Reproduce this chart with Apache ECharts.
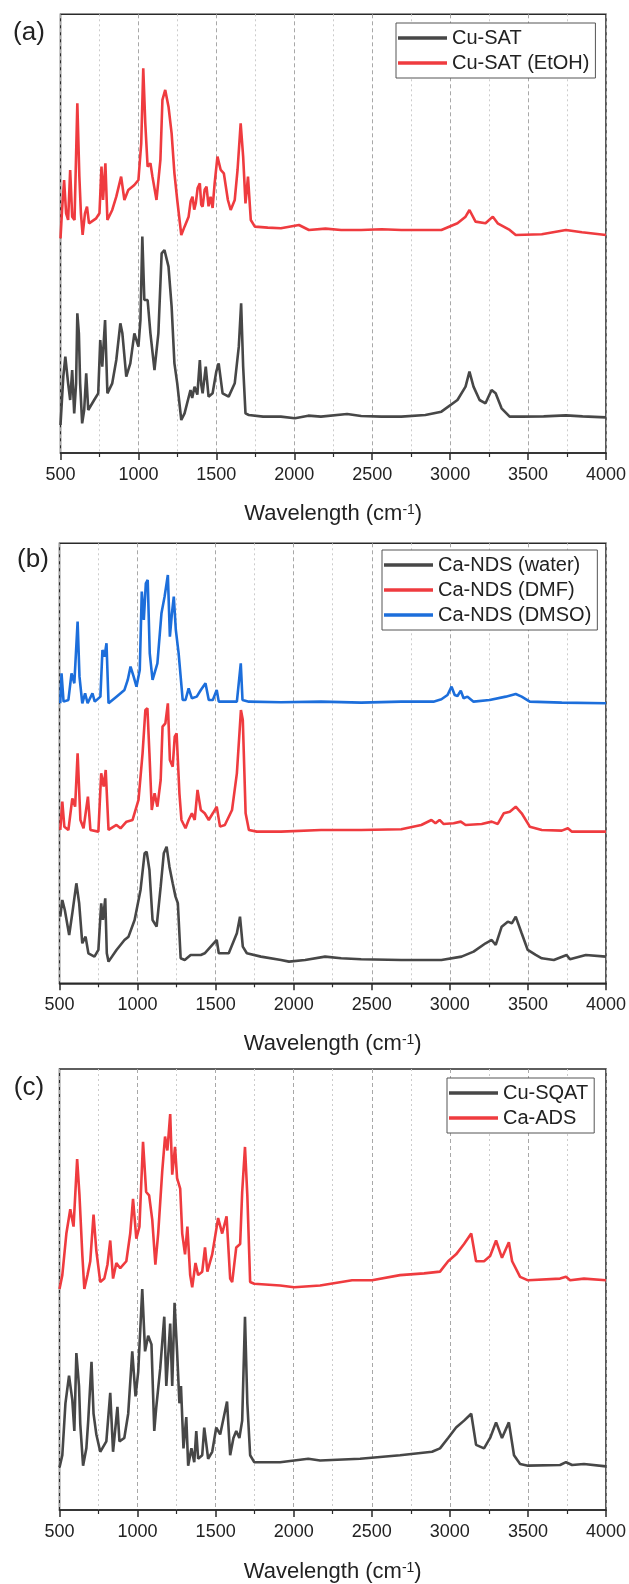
<!DOCTYPE html>
<html><head><meta charset="utf-8">
<script src="https://cdn.jsdelivr.net/npm/echarts@6/dist/echarts.min.js"></script>
<style>html,body{margin:0;padding:0;background:#fff}#c{width:629px;height:1584px}</style>
</head><body><div id="c"></div>
<script>
// x tick labels (wavenumber, cm-1)
const xTicks = [500, 1000, 1500, 2000, 2500, 3000, 3500, 4000];
const panelLabels = ['(a)', '(b)', '(c)'];
const seriesNames = ['Cu-SAT', 'Cu-SAT (EtOH)', 'Ca-NDS (water)', 'Ca-NDS (DMF)', 'Ca-NDS (DMSO)', 'Cu-SQAT', 'Ca-ADS'];

// Panel (a) — [wavenumber, intensity (a.u., offset)]
const cuSAT = [[500,8.4],[518,22.9],[531,28.9],[549,20.9],[562,15.9],[575,24.9],[588,11.9],[600,20.9],[608,41.9],[618,35.9],[626,20.9],[639,8.9],[652,12.9],[665,23.9],[678,12.9],[716,15.9],[742,17.9],[755,33.9],[768,25.9],[786,39.9],[801,17.9],[832,20.9],[858,27.9],[884,38.9],[897,35.9],[922,22.9],[948,26.9],[974,35.9],[1000,31.9],[1013,39.9],[1025,64.9],[1038,45.9],[1059,45.9],[1077,35.9],[1103,24.9],[1128,35.9],[1149,59.9],[1167,60.9],[1193,55.9],[1213,43.9],[1231,26.9],[1249,20.9],[1275,9.9],[1296,11.9],[1334,18.9],[1345,16.5],[1360,19.9],[1378,17.5],[1394,27.9],[1403,20.5],[1412,17.9],[1432,25.9],[1450,16.9],[1476,17.9],[1500,24.5],[1515,26.9],[1540,17.9],[1579,16.9],[1618,20.9],[1644,31.9],[1659,44.9],[1672,25.9],[1687,11.9],[1708,11.4],[1800,10.9],[1914,10.9],[2004,10.4],[2090,11.2],[2171,10.9],[2339,11.7],[2429,11.1],[2560,10.9],[2687,10.9],[2841,11.4],[2944,12.4],[3047,15.9],[3099,19.9],[3124,24.4],[3150,19.9],[3189,15.9],[3227,14.9],[3266,18.9],[3292,17.9],[3330,13.4],[3382,10.9],[3459,10.9],[3600,11.0],[3743,11.3],[3850,11.0],[4000,10.7]];
const cuSATEtOH = [[500,64.4],[510,72.9],[523,81.9],[536,71.9],[549,69.9],[562,84.9],[575,70.9],[590,69.9],[608,104.9],[621,82.9],[631,71.9],[642,65.4],[657,71.9],[670,73.9],[683,68.9],[729,70.4],[750,71.9],[763,85.9],[773,75.9],[788,86.9],[801,69.9],[832,72.9],[858,76.9],[889,82.9],[910,75.9],[935,78.9],[974,80.4],[1000,81.9],[1018,92.9],[1031,115.4],[1044,98.9],[1059,85.9],[1077,86.9],[1090,82.9],[1116,75.9],[1141,87.9],[1154,105.9],[1172,108.9],[1193,103.9],[1213,95.9],[1231,83.9],[1249,75.9],[1275,65.4],[1296,67.9],[1322,70.9],[1335,75.5],[1347,76.9],[1358,73.0],[1368,74.9],[1380,79.5],[1394,80.9],[1403,74.5],[1412,73.9],[1425,79.0],[1437,79.9],[1450,74.0],[1463,76.9],[1476,73.5],[1489,80.9],[1507,88.9],[1528,84.9],[1548,83.9],[1574,75.9],[1592,72.9],[1618,75.9],[1636,84.9],[1656,98.9],[1672,88.9],[1687,74.9],[1703,82.9],[1721,69.9],[1747,67.9],[1830,67.6],[1914,67.4],[2030,68.4],[2094,66.9],[2200,67.3],[2300,66.9],[2429,66.9],[2560,67.1],[2687,66.9],[2815,66.9],[2944,66.9],[3047,68.9],[3099,70.9],[3124,72.9],[3163,69.4],[3227,68.9],[3274,70.9],[3305,68.9],[3382,66.9],[3421,65.4],[3588,65.6],[3743,66.9],[3846,66.2],[4000,65.4]];

// Panel (b)
const caNDSwater = [[505,20.0],[518,25.0],[534,22.0],[562,14.5],[582,21.0],[608,30.0],[626,24.0],[646,12.0],[667,14.0],[685,9.0],[724,8.0],[749,10.0],[767,24.0],[778,19.0],[793,25.5],[803,9.0],[814,6.5],[865,10.0],[916,13.0],[942,14.0],[981,19.0],[1019,28.0],[1045,39.0],[1058,39.5],[1076,34.0],[1096,19.0],[1122,17.0],[1148,29.0],[1168,39.0],[1186,41.0],[1204,35.0],[1225,30.0],[1243,26.0],[1258,24.0],[1276,7.5],[1302,7.0],[1340,8.5],[1405,8.5],[1430,9.0],[1507,13.0],[1520,9.0],[1584,9.0],[1636,15.0],[1656,20.0],[1674,11.0],[1700,9.0],[1790,8.0],[1919,7.0],[1970,6.5],[2073,7.0],[2201,8.0],[2304,7.5],[2432,7.2],[2689,7.0],[2946,7.0],[3075,8.0],[3152,9.5],[3229,12.0],[3268,13.0],[3294,11.5],[3332,17.0],[3371,18.5],[3397,18.0],[3422,20.0],[3460,15.0],[3499,10.0],[3550,8.5],[3589,7.5],[3666,7.0],[3748,8.5],[3769,7.2],[3871,8.5],[4000,8.0]];
const caNDSDMF = [[505,46.0],[518,54.5],[531,47.0],[557,46.0],[582,55.5],[600,53.0],[616,69.0],[634,49.0],[654,46.5],[682,56.0],[698,46.0],[749,45.5],[767,63.0],[783,59.0],[796,64.0],[814,46.0],[865,47.5],[891,46.5],[929,48.5],[968,49.0],[1006,55.0],[1032,69.0],[1050,82.0],[1063,82.5],[1076,69.0],[1091,52.0],[1109,57.0],[1127,53.0],[1148,61.0],[1160,77.0],[1178,78.0],[1194,84.0],[1207,67.0],[1225,65.0],[1238,74.0],[1250,75.0],[1268,57.0],[1281,49.0],[1307,46.5],[1327,49.0],[1348,51.0],[1366,49.0],[1384,58.0],[1405,52.0],[1430,51.0],[1456,49.0],[1482,51.0],[1507,53.0],[1528,47.0],[1559,47.5],[1605,52.0],[1636,63.0],[1662,82.0],[1674,79.0],[1692,51.0],[1713,46.0],[1764,45.5],[1919,45.5],[2175,46.0],[2432,46.0],[2689,46.2],[2817,47.5],[2882,49.0],[2908,48.0],[2934,49.0],[2959,47.8],[3024,48.0],[3070,48.5],[3101,47.5],[3204,47.8],[3268,48.5],[3307,47.8],[3345,51.0],[3384,51.5],[3422,53.0],[3460,51.0],[3512,47.0],[3589,46.0],[3717,45.8],[3756,46.5],[3782,45.5],[4000,45.5]];
const caNDSDMSO = [[505,84.0],[513,93.0],[526,84.5],[557,85.0],[577,93.0],[595,90.0],[616,108.5],[628,92.0],[646,84.0],[664,87.0],[680,84.0],[711,87.0],[726,84.5],[762,86.0],[775,100.0],[788,98.0],[801,102.0],[814,84.0],[865,86.0],[916,88.0],[937,91.0],[955,95.0],[975,92.0],[993,89.0],[1014,94.0],[1027,117.5],[1040,109.0],[1053,120.0],[1065,121.0],[1078,99.0],[1096,91.0],[1127,96.0],[1153,111.0],[1173,116.0],[1194,122.5],[1207,104.0],[1220,111.0],[1232,116.0],[1245,106.0],[1263,99.0],[1289,85.0],[1307,85.0],[1327,88.5],[1348,85.5],[1379,86.0],[1405,88.0],[1435,90.0],[1456,85.0],[1482,85.0],[1507,88.0],[1520,84.5],[1636,84.5],[1661,96.0],[1672,85.0],[1713,84.5],[1919,84.3],[2175,84.5],[2432,84.2],[2689,84.5],[2895,84.5],[2946,85.2],[2985,86.5],[3011,89.0],[3031,86.5],[3049,86.2],[3070,87.8],[3088,85.5],[3113,86.0],[3152,84.5],[3255,85.0],[3358,86.0],[3422,86.8],[3460,86.0],[3512,84.5],[3717,84.2],[4000,84.0]];

// Panel (c)
const cuSQAT = [[500,12.3],[518,15.8],[538,30.8],[561,38.8],[582,31.8],[595,22.8],[608,45.3],[625,35.8],[633,24.8],[651,12.8],[672,17.8],[684,25.8],[705,42.8],[718,27.8],[736,21.8],[761,16.8],[800,19.8],[825,33.8],[843,16.8],[871,29.8],[884,19.8],[915,20.8],[940,27.8],[966,45.8],[987,32.8],[1004,39.8],[1030,63.8],[1048,45.8],[1068,50.3],[1089,47.8],[1107,22.8],[1120,29.8],[1145,40.8],[1171,55.8],[1184,35.8],[1209,53.8],[1222,35.8],[1237,59.8],[1253,45.8],[1268,30.8],[1278,35.8],[1294,17.8],[1312,26.8],[1324,12.8],[1345,17.8],[1363,13.8],[1376,22.8],[1388,14.8],[1414,15.8],[1427,23.8],[1452,14.8],[1478,16.8],[1504,23.8],[1529,21.8],[1573,31.3],[1593,15.8],[1614,20.8],[1632,22.8],[1652,20.8],[1670,25.8],[1688,55.8],[1703,30.8],[1721,15.8],[1747,13.8],[1913,13.8],[2093,14.8],[2169,14.3],[2425,14.8],[2681,15.8],[2886,16.8],[2937,17.8],[2989,20.8],[3040,23.8],[3091,25.8],[3137,27.8],[3168,18.8],[3219,17.8],[3258,20.8],[3296,25.3],[3334,20.8],[3378,25.3],[3411,15.8],[3450,13.3],[3501,12.8],[3706,13.0],[3744,13.8],[3783,13.0],[3859,13.3],[4000,12.6]];
const caADS = [[500,63.8],[518,67.8],[544,79.8],[569,86.8],[590,81.8],[613,101.3],[628,90.8],[646,73.8],[659,63.8],[679,67.8],[697,71.8],[718,85.3],[736,74.8],[761,65.8],[787,66.8],[807,70.8],[825,77.8],[843,66.8],[864,71.3],[889,69.8],[928,71.8],[953,79.8],[971,89.8],[992,78.3],[1012,81.8],[1035,106.3],[1055,91.8],[1074,90.8],[1094,83.8],[1114,70.8],[1132,79.8],[1158,97.8],[1176,107.8],[1191,103.8],[1209,114.3],[1222,96.8],[1240,104.8],[1253,95.8],[1273,92.8],[1286,79.8],[1304,73.8],[1319,81.8],[1337,67.8],[1350,64.3],[1371,71.3],[1388,67.8],[1414,68.8],[1432,75.8],[1447,68.8],[1478,73.8],[1516,84.3],[1542,79.8],[1570,84.8],[1593,66.8],[1606,65.8],[1632,75.8],[1657,76.8],[1670,91.8],[1688,104.8],[1703,90.8],[1721,65.8],[1747,65.3],[1913,64.8],[2003,64.3],[2169,64.8],[2374,66.3],[2502,66.3],[2681,67.8],[2835,68.3],[2937,68.8],[2989,71.8],[3040,73.8],[3091,76.8],[3137,79.8],[3168,71.8],[3219,71.8],[3258,73.3],[3296,77.8],[3334,72.8],[3378,77.3],[3399,71.8],[3450,67.3],[3501,66.3],[3706,66.8],[3744,67.3],[3770,66.3],[3859,66.8],[4000,66.3]];

const FONT = "'Liberation Sans', Arial, Helvetica, sans-serif";
const GRAY = '#474747', RED = '#ef3b3f', BLUE = '#1c6edb';

const grids = [
  {left: 60.5, top: 14.3, width: 545.5, height: 438.7, yMax: 131.6, gap: 50},
  {left: 59.5, top: 543.3, width: 547, height: 440, yMax: 132, gap: 50},
  {left: 59.5, top: 1069, width: 548, height: 442, yMax: 127.3, gap: 51}
];

function xAxis(i) {
  return {
    type: 'value', gridIndex: i, min: xTicks[0], max: xTicks[xTicks.length - 1], interval: 500,
    axisLine: {show: true, lineStyle: {color: '#2a2a2a', width: 1.5}},
    axisTick: {show: true, length: 7, lineStyle: {color: '#2a2a2a', width: 1.5}},
    minorTick: {show: true, splitNumber: 2, length: 4, lineStyle: {color: '#2a2a2a', width: 1.2}},
    axisLabel: {fontSize: 18, color: '#222', fontFamily: FONT, margin: 13, formatter: v => String(v)},
    splitLine: {show: true, lineStyle: {type: [4, 3], color: '#a8a8a8', width: 1}},
    minorSplitLine: {show: true, lineStyle: {type: [2, 3], color: '#cccccc', width: 1}},
    name: '{t|Wavelength (cm}{s|-1}{t|)}', nameLocation: 'middle', nameGap: grids[i].gap,
    nameTextStyle: {rich: {
      t: {fontSize: 22, color: '#222', fontFamily: FONT},
      s: {fontSize: 14, color: '#222', fontFamily: FONT, verticalAlign: 'top'}
    }}
  };
}
function yAxis(i) {
  return {type: 'value', gridIndex: i, min: 0, max: grids[i].yMax,
    axisLine: {show: false}, axisTick: {show: false}, axisLabel: {show: false}, splitLine: {show: false}};
}
function line(name, data, color, i) {
  return {name, type: 'line', xAxisIndex: i, yAxisIndex: i, data, showSymbol: false, symbol: 'none',
    lineStyle: {color, width: 2.6}, itemStyle: {color}, animation: false};
}
function legend(names, left, top) {
  return {data: names, orient: 'vertical', left, top, icon: 'rect', itemWidth: 49, itemHeight: 3.5, itemGap: 0,
    padding: [2.5, 6, 2.5, 2], borderColor: '#555', borderWidth: 1, backgroundColor: '#fff',
    textStyle: {fontSize: 20, color: '#222', fontFamily: FONT, lineHeight: 25, height: 25}};
}

const chart = echarts.init(document.getElementById('c'), null, {renderer: 'canvas'});
chart.setOption({
  animation: false,
  backgroundColor: '#fff',
  grid: grids.map(g => ({left: g.left, top: g.top, width: g.width, height: g.height, show: true,
    borderColor: '#2a2a2a', borderWidth: 1.5, backgroundColor: 'transparent'})),
  xAxis: [0, 1, 2].map(xAxis),
  yAxis: [0, 1, 2].map(yAxis),
  legend: [
    legend([seriesNames[0], seriesNames[1]], 396, 23),
    legend([seriesNames[2], seriesNames[3], seriesNames[4]], 382, 550),
    legend([seriesNames[5], seriesNames[6]], 447, 1078)
  ],
  graphic: [
    {type: 'text', x: 29, y: 33, style: {text: panelLabels[0], fontSize: 26, fill: '#222', fontFamily: FONT, align: 'center', verticalAlign: 'middle'}},
    {type: 'text', x: 33, y: 560, style: {text: panelLabels[1], fontSize: 26, fill: '#222', fontFamily: FONT, align: 'center', verticalAlign: 'middle'}},
    {type: 'text', x: 29, y: 1088, style: {text: panelLabels[2], fontSize: 26, fill: '#222', fontFamily: FONT, align: 'center', verticalAlign: 'middle'}}
  ],
  series: [
    line(seriesNames[0], cuSAT, GRAY, 0),
    line(seriesNames[1], cuSATEtOH, RED, 0),
    line(seriesNames[2], caNDSwater, GRAY, 1),
    line(seriesNames[3], caNDSDMF, RED, 1),
    line(seriesNames[4], caNDSDMSO, BLUE, 1),
    line(seriesNames[5], cuSQAT, GRAY, 2),
    line(seriesNames[6], caADS, RED, 2)
  ]
});
</script></body></html>
